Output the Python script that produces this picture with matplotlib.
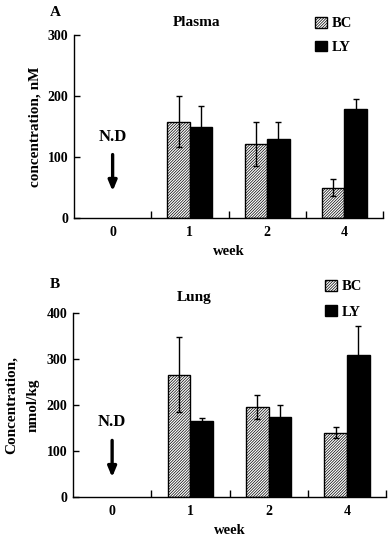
import numpy as np
import matplotlib
matplotlib.use('Agg')
import matplotlib.pyplot as plt
from matplotlib.patches import Patch

plt.rcParams['font.family'] = ['Liberation Serif', 'DejaVu Serif']
plt.rcParams['font.weight'] = 'bold'
plt.rcParams['hatch.linewidth'] = 0.5

weeks = ['0', '1', '2', '4']
plasma_bc = [np.nan, 158, 122, 50]
plasma_bc_err = [np.nan, 42, 36, 14]
plasma_ly = [np.nan, 150, 130, 179]
plasma_ly_err = [np.nan, 34, 28, 16]
lung_bc = [np.nan, 266, 195, 140]
lung_bc_err = [np.nan, 82, 26, 12]
lung_ly = [np.nan, 165, 174, 309]
lung_ly_err = [np.nan, 7, 25, 62]
series_names = ['BC', 'LY']

HATCH = '////////////'
W, H = 388, 536
fig = plt.figure(figsize=(W / 100, H / 100), dpi=100)


def px_axes(l, r, t, b):
    return fig.add_axes([l / W, 1 - b / H, (r - l) / W, (b - t) / H])


def panel(ax, bc, bce, ly, lye, ymax, step, letter, title, ylabel, nd_y, arr_from, arr_to,
          leg_xy, leg_spacing, title_xy, letter_xy, ylabel_x, ylabel_multiline=False):
    x = np.arange(len(weeks))
    w = 0.29
    bc = np.array(bc, float); ly = np.array(ly, float)
    m = ~np.isnan(bc)
    ax.bar(x[m] - w / 2, bc[m], w, facecolor='white', edgecolor='black', hatch=HATCH,
           linewidth=1.0, zorder=2)
    ax.bar(x[m] + w / 2, ly[m], w, facecolor='black', edgecolor='black', linewidth=1.0, zorder=2)
    ax.errorbar(x[m] - w / 2, bc[m], yerr=np.array(bce, float)[m], fmt='none', ecolor='black',
                elinewidth=1.0, capsize=2.2, capthick=1.0, zorder=3)
    ax.errorbar(x[m] + w / 2, ly[m], yerr=np.array(lye, float)[m], fmt='none', ecolor='black',
                elinewidth=1.0, capsize=2.2, capthick=1.0, zorder=1.5)
    ax.set_xlim(-0.5, len(weeks) - 0.5)
    ax.set_ylim(0, ymax)
    ax.set_yticks(np.arange(0, ymax + 1, step))
    ax.set_xticks(x)
    ax.set_xticklabels(weeks)
    ax.set_xticks(np.arange(0.5, len(weeks), 1.0), minor=True)
    ax.tick_params(axis='x', which='major', length=0, pad=6, labelsize=10)
    ax.tick_params(axis='x', which='minor', length=5, direction='in', width=1)
    ax.tick_params(axis='y', direction='in', length=4, width=1, labelsize=10, pad=4)
    for s in ['top', 'right']:
        ax.spines[s].set_visible(False)
    for s in ['left', 'bottom']:
        ax.spines[s].set_linewidth(1.0)
    ax.set_xlabel('week', fontsize=10.5, fontweight='bold', labelpad=4)
    ax.text(0, nd_y, 'N.D', ha='center', va='center', fontsize=12, fontweight='bold')
    ax.annotate('', xy=(0, arr_to), xytext=(0, arr_from),
                arrowprops=dict(arrowstyle='-|>,head_width=0.25,head_length=0.6',
                                lw=2.4, color='black', shrinkA=0, shrinkB=0))
    handles = [Patch(facecolor='white', edgecolor='black', hatch=HATCH, linewidth=1.0),
               Patch(facecolor='black', edgecolor='black', linewidth=1.0)]
    fig.legend(handles, series_names, loc='upper left',
               bbox_to_anchor=(leg_xy[0] / W, 1 - leg_xy[1] / H), frameon=False,
               handlelength=0.8, handleheight=0.75, handletextpad=0.35,
               borderpad=0, borderaxespad=0, labelspacing=leg_spacing,
               prop={'weight': 'bold', 'size': 10.5})
    fig.text(title_xy[0] / W, 1 - title_xy[1] / H, title, ha='center', va='center',
             fontsize=11, fontweight='bold')
    fig.text(letter_xy[0] / W, 1 - letter_xy[1] / H, letter, ha='left', va='center',
             fontsize=11, fontweight='bold')
    cy = ax.get_position().y0 + ax.get_position().height / 2
    if ylabel_multiline:
        fig.text(ylabel_x[0] / W, cy, ylabel[0], rotation=90, ha='center', va='center',
                 fontsize=11, fontweight='bold')
        fig.text(ylabel_x[1] / W, cy, ylabel[1], rotation=90, ha='center', va='center',
                 fontsize=11, fontweight='bold')
    else:
        fig.text(ylabel_x / W, cy, ylabel, rotation=90, ha='center', va='center',
                 fontsize=11, fontweight='bold')


axA = px_axes(74, 383, 35, 218)
panel(axA, plasma_bc, plasma_bc_err, plasma_ly, plasma_ly_err, 300, 100, 'A', 'Plasma',
      'concentration, nM', 132, 104, 44, (315, 17), 0.7, (197, 22), (50, 12), 35)

axB = px_axes(73, 386, 313, 497)
panel(axB, lung_bc, lung_bc_err, lung_ly, lung_ly_err, 400, 100, 'B', 'Lung',
      ('Concentration,', 'nmol/kg'), 163, 123, 43, (325, 280), 0.8, (194, 298), (50, 285),
      (11, 33), ylabel_multiline=True)

fig.savefig('out.png', dpi=100)
